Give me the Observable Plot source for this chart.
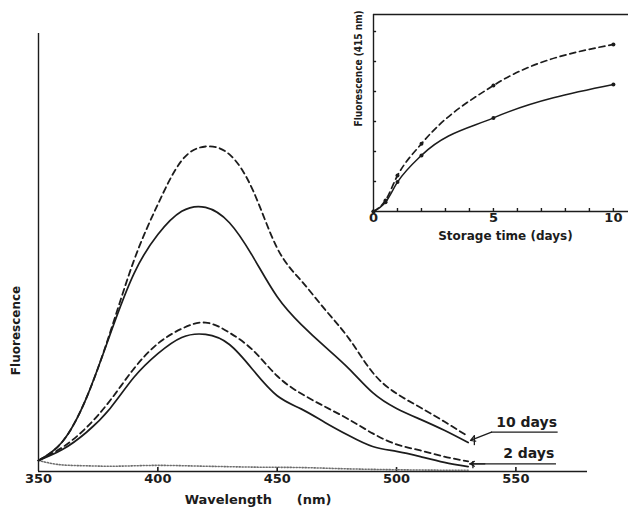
<!DOCTYPE html>
<html><head><meta charset="utf-8">
<script src="https://cdn.jsdelivr.net/npm/d3@7"></script>
<script src="https://cdn.jsdelivr.net/npm/@observablehq/plot@0.6"></script>
<style>
body{margin:0;background:#fff;}
#wrap{position:relative;width:628px;height:511px;overflow:hidden;background:#fff;}
#wrap svg{position:absolute;}
</style></head><body><div id="wrap"></div>
<script>
// ---- main spectra (wavelength nm, fluorescence arbitrary units) ----
const wavelengths = [350,360,370,380,390,400,410,420,430,440,450,460,470,480,490,500,510,520,530];
const day10Dashed = [2.5,6.8,16.7,31.7,48.2,61.0,71.0,74.2,72.4,64.0,51.0,43.6,37.0,30.4,22.6,17.8,14.6,11.4,8.0];
const day10Solid  = [2.5,6.8,16.7,31.3,45.2,54.1,59.4,60.3,56.8,48.9,39.9,33.6,28.5,23.5,18.0,14.4,11.9,9.4,6.6];
const day2Dashed  = [2.5,5.5,10.0,16.2,23.5,29.2,32.6,34.0,31.7,27.6,21.8,17.8,14.8,11.9,8.7,6.2,4.8,3.4,2.3];
const day2Solid   = [2.5,5.0,8.9,14.4,21.5,26.9,30.6,31.3,29.0,23.1,17.3,14.3,11.2,8.2,5.7,4.6,3.4,2.1,1.1];
const baselineWl  = [350,360,370,380,400,420,440,460,480,500,520,530];
const baselineF   = [2.5,1.5,1.3,1.2,1.4,1.2,1.0,0.9,0.6,0.4,0.3,0.3];
const xTicks = [350,400,450,500,550];
const xMinorTicks = [400,450,500,550];
const annTexts = ["10 days","2 days"];
const annX = [554.5,555.4];
const annY = [10.2,3.0];

// ---- inset (storage time, fluorescence at 415 nm) ----
const storageDays = [0,0.5,1,2,5,10];
const insetSolid  = [0,0.31,0.98,1.87,3.12,4.23];
const insetDashed = [0,0.37,1.20,2.26,4.20,5.57];
const insetXTicks = [0,5,10];
const insetXMinor = [1,2,3,4,5,6,7,8,9,10];
const insetYMinor = [1,2,3,4,5,6];

const INK = "#1c1c1c";
const FONT = "'DejaVu Sans', sans-serif";

const rows = vals => wavelengths.map((w,i)=>({w, f: vals[i]}));
const baseRows = baselineWl.map((w,i)=>({w, f: baselineF[i]}));

const main = Plot.plot({
  width: 628, height: 511,
  marginLeft: 38, marginRight: 41, marginTop: 33, marginBottom: 40,
  x: {domain: [350, 580]},
  y: {domain: [0, 100], axis: null},
  style: {fontFamily: FONT, color: INK, background: "transparent", overflow: "visible"},
  marks: [
    Plot.ruleY([0], {x1: 350, x2: 580, stroke: INK, strokeWidth: 1.6}),
    Plot.ruleX([350], {y1: 0, y2: 100, stroke: INK, strokeWidth: 1.4}),
    Plot.ruleX(xMinorTicks, {y1: 0, y2: 0.9, stroke: INK, strokeWidth: 1.6}),
    Plot.axisX({ticks: xTicks, tickSize: 0, tickPadding: 2, label: null, fontSize: 13, fontWeight: "bold", tickFormat: d => String(d)}),
    Plot.line(baseRows, {x: "w", y: "f", stroke: "#6e6e6e", strokeWidth: 1.6, strokeDasharray: "1.2,1.8", curve: "monotone-x"}),
    Plot.line(rows(day2Solid), {x: "w", y: "f", stroke: INK, strokeWidth: 1.7, curve: "natural"}),
    Plot.line(rows(day2Dashed), {x: "w", y: "f", stroke: INK, strokeWidth: 1.8, strokeDasharray: "6,4", curve: "natural"}),
    Plot.line(rows(day10Solid), {x: "w", y: "f", stroke: INK, strokeWidth: 1.7, curve: "natural"}),
    Plot.line(rows(day10Dashed), {x: "w", y: "f", stroke: INK, strokeWidth: 1.8, strokeDasharray: "6,4", curve: "natural"}),
    // annotations
    Plot.text(annTexts, {x: (d,i) => annX[i], y: (d,i) => annY[i], text: d => d, lineAnchor: "bottom", fontSize: 14, fontWeight: "bold", fill: INK}),
    Plot.ruleY([8.97], {x1: 539.8, x2: 567.7, stroke: INK, strokeWidth: 1.3}),
    Plot.ruleY([1.76], {x1: 530.6, x2: 567.0, stroke: INK, strokeWidth: 1.3}),
    Plot.arrow([{x1: 539.8, y1: 8.97, x2: 531.0, y2: 7.1}], {x1: "x1", y1: "y1", x2: "x2", y2: "y2", stroke: INK, strokeWidth: 1.3, headLength: 6}),
    Plot.arrow([{x1: 537.0, y1: 1.76, x2: 530.8, y2: 1.76}], {x1: "x1", y1: "y1", x2: "x2", y2: "y2", stroke: INK, strokeWidth: 1.3, headLength: 6}),
    Plot.ruleX([532.6], {y1: 5.9, y2: 8.2, stroke: INK, strokeWidth: 1.3}),
    Plot.ruleX([532.0], {y1: 0.6, y2: 2.3, stroke: INK, strokeWidth: 1.3}),
    // axis labels
    Plot.text(["Wavelength"], {x: 429.5, frameAnchor: "bottom", dy: 32, text: d => d, fontSize: 13, fontWeight: "bold", fill: INK}),
    Plot.text(["(nm)"], {x: 465.5, frameAnchor: "bottom", dy: 32, text: d => d, fontSize: 13, fontWeight: "bold", fill: INK}),
    Plot.text(["Fluorescence"], {x: 350, y: 32.2, dx: -22, rotate: -90, text: d => d, fontSize: 12, fontWeight: "bold", fill: INK})
  ]
});
main.style.left = "0px"; main.style.top = "0px";
document.getElementById("wrap").appendChild(main);

const irows = vals => storageDays.map((d,i)=>({d, f: vals[i]}));
const inset = Plot.plot({
  width: 298, height: 250,
  marginLeft: 43, marginRight: 0, marginTop: 14, marginBottom: 39,
  x: {domain: [0, 10.63]},
  y: {domain: [0, 6.567], axis: null},
  style: {fontFamily: FONT, color: INK, background: "transparent", overflow: "visible"},
  marks: [
    Plot.ruleY([0], {x1: 0, x2: 10.63, stroke: INK, strokeWidth: 1.6}),
    Plot.ruleY([6.567], {x1: 0, x2: 10.63, stroke: INK, strokeWidth: 1.4}),
    Plot.ruleX([0], {y1: 0, y2: 6.567, stroke: INK, strokeWidth: 1.4}),
    Plot.ruleY(insetYMinor, {x1: 0, x2: 0.13, stroke: INK, strokeWidth: 1.4}),
    Plot.ruleX(insetXMinor, {y1: 0, y2: 0.1, stroke: INK, strokeWidth: 1.4}),
    Plot.axisX({ticks: insetXTicks, tickSize: 0, tickPadding: 1, label: null, fontSize: 13, fontWeight: "bold", tickFormat: d => String(d)}),
    Plot.line(irows(insetSolid), {x: "d", y: "f", stroke: INK, strokeWidth: 1.5, curve: "monotone-x"}),
    Plot.line(irows(insetDashed), {x: "d", y: "f", stroke: INK, strokeWidth: 1.7, strokeDasharray: "6,4", curve: "monotone-x"}),
    Plot.dot(irows(insetSolid), {x: "d", y: "f", r: 2, fill: INK}),
    Plot.dot(irows(insetDashed), {x: "d", y: "f", r: 2, fill: INK}),
    Plot.text(["Storage time (days)"], {x: 5.5, frameAnchor: "bottom", dy: 28, text: d => d, fontSize: 12, fontWeight: "bold", fill: INK}),
    Plot.text(["Fluorescence (415 nm)"], {x: 0, y: 4.77, dx: -15, rotate: -90, text: d => d, fontSize: 10, fontWeight: "bold", fill: INK, fontFamily: "'DejaVu Sans Condensed', 'Liberation Sans Narrow', sans-serif"})
  ]
});
inset.style.left = "330px"; inset.style.top = "0px";
document.getElementById("wrap").appendChild(inset);
</script>
</body></html>
